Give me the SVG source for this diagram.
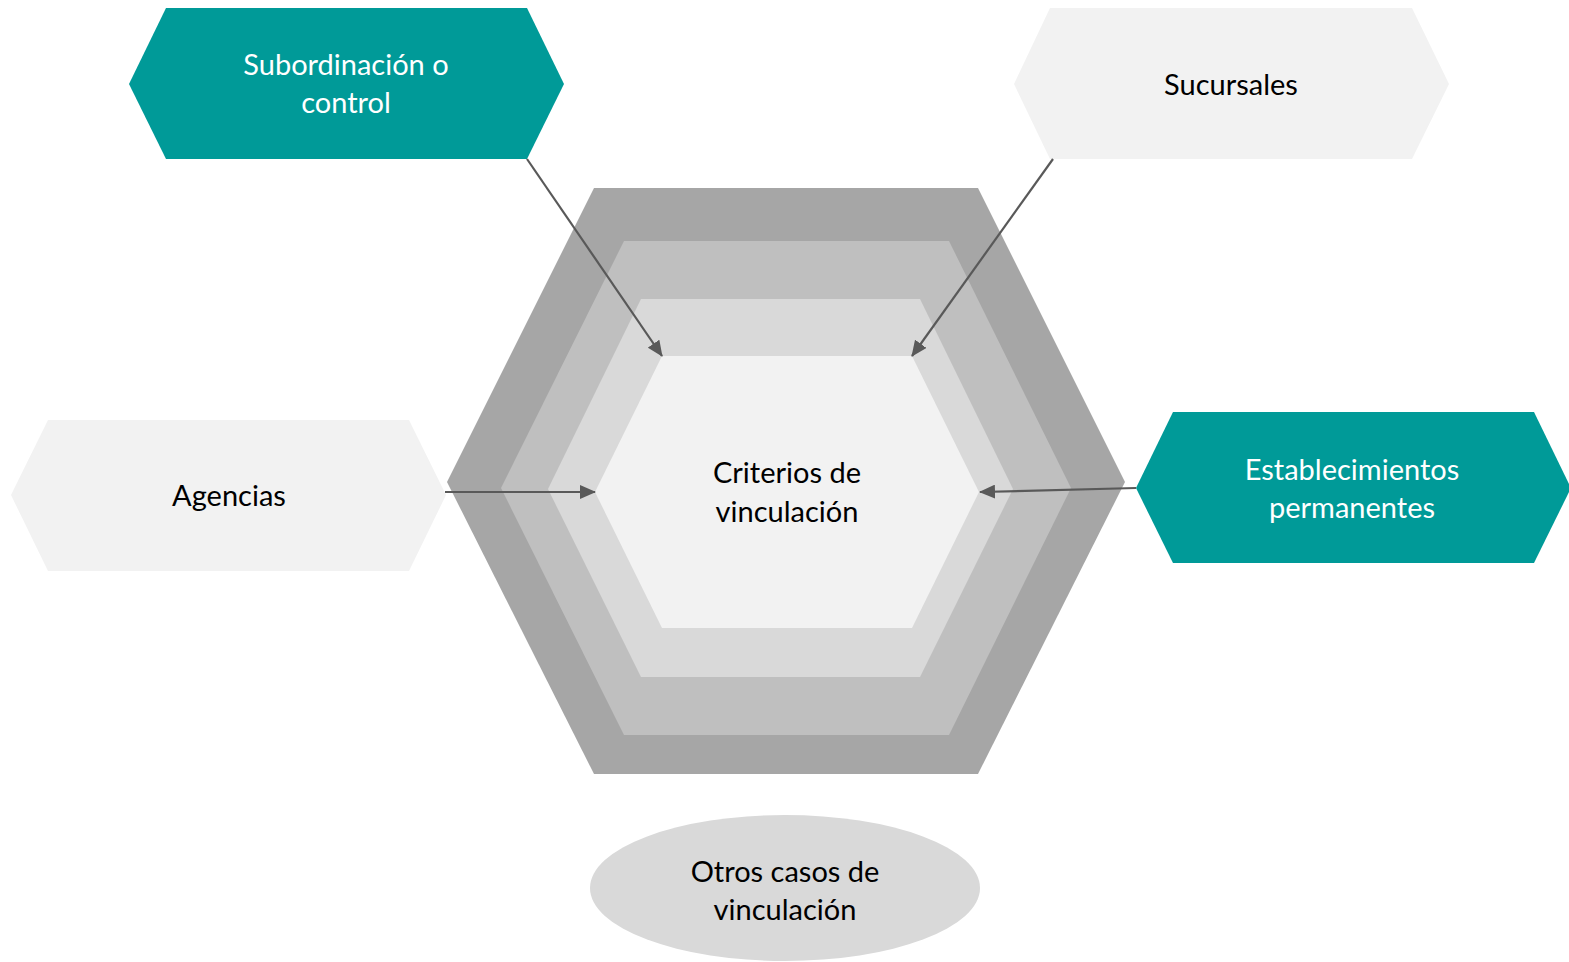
<svg xmlns="http://www.w3.org/2000/svg" width="1569" height="962" viewBox="0 0 1569 962">
<style>
.t{font-family:Lato,"Liberation Sans",sans-serif;font-size:29px;text-anchor:middle}
.w{fill:#FFFFFF}
.k{fill:#000000}
.teal{fill:#009A98}
.light{fill:#F2F2F2}
.conn{stroke:#595959;stroke-width:2.2;fill:none;marker-end:url(#ah)}
</style>
<defs>
<marker id="ah" markerWidth="16" markerHeight="14" refX="15" refY="7" orient="auto" markerUnits="userSpaceOnUse">
<path d="M0,0 L16,7 L0,14 Z" fill="#595959"/>
</marker>
</defs>
<rect width="1569" height="962" fill="#FFFFFF"/>
<g id="center">
<polygon points="447,482 594,188 978,188 1125,482 978,774 594,774" fill="#A6A6A6"/>
<polygon points="501,488 624,241 949,241 1071,488 949,735 624,735" fill="#BFBFBF"/>
<polygon points="548,489 641,299 920,299 1013,489 920,677 641,677" fill="#D9D9D9"/>
<polygon points="595,492 662,356 912,356 979,492 912,628 662,628" fill="#F2F2F2"/>
<text class="t k" x="787" y="483">Criterios de</text>
<text class="t k" x="787" y="522">vinculación</text>
</g>
<g id="subordinacion">
<polygon class="teal" points="129,84 166,8 527,8 564,84 527,159 166,159"/>
<text class="t w" x="346" y="75">Subordinación o</text>
<text class="t w" x="346" y="113">control</text>
</g>
<g id="sucursales">
<polygon class="light" points="1014,84 1050,8 1412,8 1449,84 1412,159 1050,159"/>
<text class="t k" x="1231" y="95">Sucursales</text>
</g>
<g id="agencias">
<polygon class="light" points="11,495 48,420 409,420 446,495 409,571 48,571"/>
<text class="t k" x="229" y="506">Agencias</text>
</g>
<g id="establecimientos">
<polygon class="teal" points="1136,488 1173,412 1534,412 1571,488 1534,563 1173,563"/>
<text class="t w" x="1352" y="480">Establecimientos</text>
<text class="t w" x="1352" y="518">permanentes</text>
</g>
<g id="otros">
<ellipse cx="785" cy="888" rx="195" ry="73" fill="#D9D9D9"/>
<text class="t k" x="785" y="882">Otros casos de</text>
<text class="t k" x="785" y="920">vinculación</text>
</g>
<g id="connectors">
<line class="conn" x1="527" y1="159" x2="662" y2="356"/>
<line class="conn" x1="1053" y1="159" x2="912" y2="356"/>
<line class="conn" x1="445" y1="492" x2="595" y2="492"/>
<line class="conn" x1="1136" y1="488" x2="980" y2="492"/>
</g>
</svg>
